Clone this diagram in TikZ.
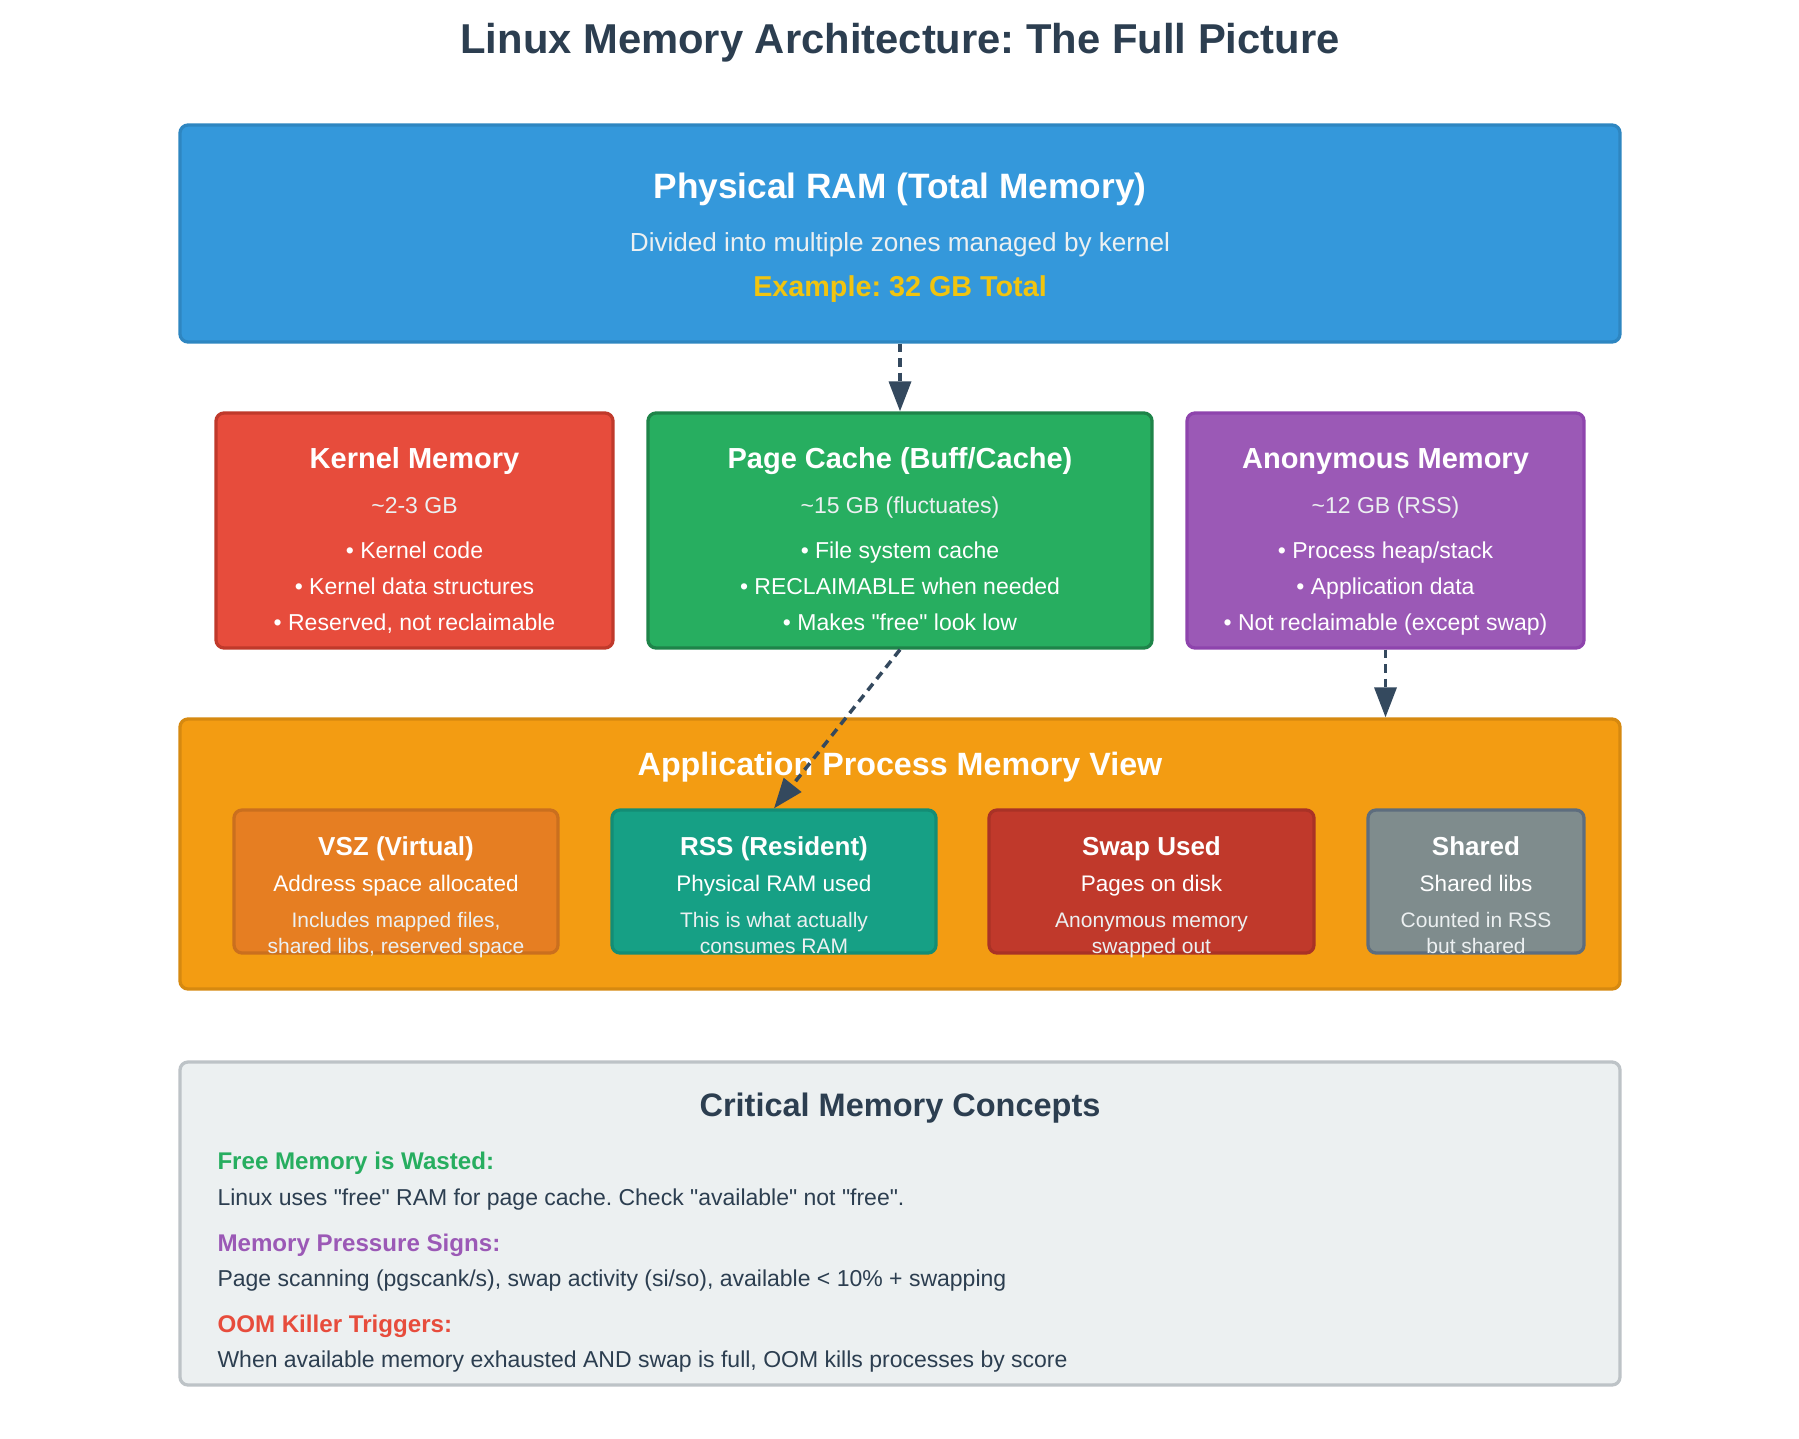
\documentclass[tikz,border=0pt]{standalone}
\usepackage{fontspec}
\setmainfont{Liberation Sans}
\usetikzlibrary{arrows.meta}
\frenchspacing
\definecolor{ramfill}{HTML}{3498DB}\definecolor{ramline}{HTML}{2E86C1}
\definecolor{kfill}{HTML}{E74C3C}\definecolor{kline}{HTML}{C0392B}
\definecolor{pfill}{HTML}{27AE60}\definecolor{pline}{HTML}{1E8449}
\definecolor{afill}{HTML}{9B59B6}\definecolor{aline}{HTML}{8E44AD}
\definecolor{ofill}{HTML}{F39C12}\definecolor{oline}{HTML}{D68910}
\definecolor{vfill}{HTML}{E67E22}\definecolor{vline}{HTML}{CA6F1E}
\definecolor{rfill}{HTML}{16A085}\definecolor{rline}{HTML}{138D75}
\definecolor{sfill}{HTML}{C0392B}\definecolor{sline}{HTML}{A93226}
\definecolor{gfill}{HTML}{7F8C8D}\definecolor{gline}{HTML}{5D6D7E}
\definecolor{cfill}{HTML}{ECF0F1}\definecolor{cline}{HTML}{BDC3C7}
\definecolor{darktxt}{HTML}{2C3E50}\definecolor{arrowc}{HTML}{34495E}
\definecolor{yel}{HTML}{F1C40F}\definecolor{soft}{HTML}{ECF0F1}
\newcommand{\fs}[1]{\fontsize{#1pt}{#1pt}\selectfont\frenchspacing}
\newcommand{\q}{\textquotedbl}
\begin{document}
\begin{tikzpicture}[x=0.4pt,y=-0.4pt,
  box/.style={draw, line width=1.3pt, rounded corners=3.2pt, inner sep=0pt},
  txt/.style={anchor=base, inner sep=0pt, text=white},
  ltxt/.style={anchor=base west, inner sep=0pt},
  flow/.style={draw=arrowc, line width=1.4pt, dash pattern=on 3.4pt off 2.4pt, -{Triangle[length=12pt,width=8.8pt]}}]
\useasboundingbox (0,0) rectangle (1799,1439);
\fill[white] (0,0) rectangle (1799,1439);

\node[txt, text=darktxt, font=\bfseries\fs{16.7}] (title) at (900,54) {Linux Memory Architecture: The Full Picture};

% Physical RAM
\node[box, draw=ramline, fill=ramfill, minimum width=576pt, minimum height=86.8pt] (ram) at (900,233.5) {};
\node[txt, font=\bfseries\fs{14.1}] (ramt) at (900,198) {Physical RAM (Total Memory)};
\node[txt, font=\fs{10.45}, text=soft] (ramd) at (900,251) {Divided into multiple zones managed by kernel};
\node[txt, font=\bfseries\fs{11.5}, text=yel] (rame) at (900,296) {Example: 32 GB Total};

% middle boxes
\node[box, draw=kline, fill=kfill, minimum width=158.8pt, minimum height=94pt] (kern) at (414.5,530.5) {};
\node[box, draw=pline, fill=pfill, minimum width=201.6pt, minimum height=94pt] (page) at (900,530.5) {};
\node[box, draw=aline, fill=afill, minimum width=158.8pt, minimum height=94pt] (anon) at (1385.5,530.5) {};

\node[txt, font=\bfseries\fs{11.6}] (kt) at (414.5,468) {Kernel Memory};
\node[txt, font=\fs{9.2}, text=soft] (ks) at (414.5,513) {\textasciitilde2-3 GB};
\node[txt, font=\fs{9.2}] (k1) at (414.5,558) {• Kernel code};
\node[txt, font=\fs{9.2}] (k2) at (414.5,594) {• Kernel data structures};
\node[txt, font=\fs{9.2}] (k3) at (414.5,630) {• Reserved, not reclaimable};

\node[txt, font=\bfseries\fs{11.6}] (pt) at (900,468) {Page Cache (Buff/Cache)};
\node[txt, font=\fs{9.2}, text=soft] (ps) at (900,513) {\textasciitilde15 GB (fluctuates)};
\node[txt, font=\fs{9.2}] (p1) at (900,558) {• File system cache};
\node[txt, font=\fs{9.2}] (p2) at (900,594) {• RECLAIMABLE when needed};
\node[txt, font=\fs{9.2}] (p3) at (900,630) {• Makes \q free\q{} look low};

\node[txt, font=\bfseries\fs{11.6}] (at) at (1385.5,468) {Anonymous Memory};
\node[txt, font=\fs{9.2}, text=soft] (as) at (1385.5,513) {\textasciitilde12 GB (RSS)};
\node[txt, font=\fs{9.2}] (a1) at (1385.5,558) {• Process heap/stack};
\node[txt, font=\fs{9.2}] (a2) at (1385.5,594) {• Application data};
\node[txt, font=\fs{9.2}] (a3) at (1385.5,630) {• Not reclaimable (except swap)};

% application process view
\node[box, draw=oline, fill=ofill, minimum width=576pt, minimum height=108pt] (app) at (900,854) {};
\node[txt, font=\bfseries\fs{12.9}] (appt) at (900,775) {Application Process Memory View};

\node[box, draw=vline, fill=vfill, minimum width=129.6pt, minimum height=57.2pt] (vsz) at (396,881.5) {};
\node[box, draw=rline, fill=rfill, minimum width=129.6pt, minimum height=57.2pt] (rss) at (774,881.5) {};
\node[box, draw=sline, fill=sfill, minimum width=130pt, minimum height=57.2pt] (swap) at (1151.5,881.5) {};
\node[box, draw=gline, fill=gfill, minimum width=86.4pt, minimum height=57.2pt] (shr) at (1476,881.5) {};

\node[txt, font=\bfseries\fs{10.4}] (vt) at (396,855) {VSZ (Virtual)};
\node[txt, font=\fs{9}] (v1) at (396,891) {Address space allocated};
\node[txt, font=\fs{8.4}, text=soft] (v2) at (396,927) {Includes mapped files,};
\node[txt, font=\fs{8.4}, text=soft] (v3) at (396,953) {shared libs, reserved space};

\node[txt, font=\bfseries\fs{10.4}] (rt) at (774,855) {RSS (Resident)};
\node[txt, font=\fs{9}] (r1) at (774,891) {Physical RAM used};
\node[txt, font=\fs{8.4}, text=soft] (r2) at (774,927) {This is what actually};
\node[txt, font=\fs{8.4}, text=soft] (r3) at (774,953) {consumes RAM};

\node[txt, font=\bfseries\fs{10.4}] (st) at (1151.5,855) {Swap Used};
\node[txt, font=\fs{9}] (s1) at (1151.5,891) {Pages on disk};
\node[txt, font=\fs{8.4}, text=soft] (s2) at (1151.5,927) {Anonymous memory};
\node[txt, font=\fs{8.4}, text=soft] (s3) at (1151.5,953) {swapped out};

\node[txt, font=\bfseries\fs{10.4}] (ht) at (1476,855) {Shared};
\node[txt, font=\fs{9}] (h1) at (1476,891) {Shared libs};
\node[txt, font=\fs{8.4}, text=soft] (h2) at (1476,927) {Counted in RSS};
\node[txt, font=\fs{8.4}, text=soft] (h3) at (1476,953) {but shared};

% concepts
\node[box, draw=cline, fill=cfill, minimum width=576pt, minimum height=129.2pt] (conc) at (900,1223.5) {};
\node[txt, text=darktxt, font=\bfseries\fs{13}] (ct) at (900,1116) {Critical Memory Concepts};
\node[ltxt, text=pfill, font=\bfseries\fs{9.65}] (c1h) at (217,1169) {Free Memory is Wasted:};
\node[ltxt, text=darktxt, font=\fs{9.2}] (c1b) at (217,1205) {Linux uses \q free\q{} RAM for page cache. Check \q available\q{} not \q free\q.};
\node[ltxt, text=afill, font=\bfseries\fs{9.65}] (c2h) at (217,1251) {Memory Pressure Signs:};
\node[ltxt, text=darktxt, font=\fs{9.2}] (c2b) at (217,1286) {Page scanning (pgscank/s), swap activity (si/so), available < 10\% + swapping};
\node[ltxt, text=kfill, font=\bfseries\fs{9.65}] (c3h) at (217,1332) {OOM Killer Triggers:};
\node[ltxt, text=darktxt, font=\fs{9.2}] (c3b) at (217,1367) {When available memory exhausted AND swap is full, OOM kills processes by score};

% connectors
\draw[flow] (ram.south) -- (page.north);
\draw[flow] (page.south) -- (rss.north);
\draw[flow] (anon.south) -- (anon.south |- app.north);
\end{tikzpicture}
\end{document}
